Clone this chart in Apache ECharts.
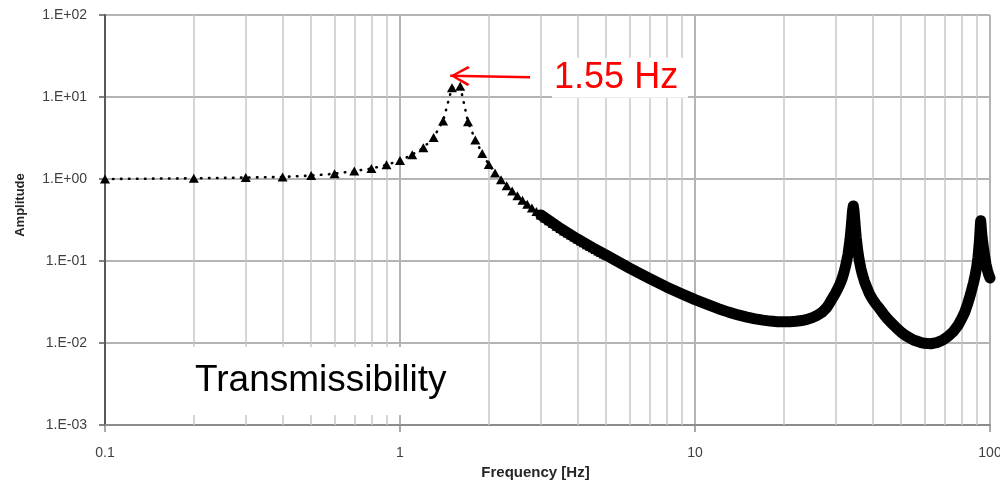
<!DOCTYPE html>
<html>
<head>
<meta charset="utf-8">
<script src="https://cdn.jsdelivr.net/npm/echarts@6/dist/echarts.min.js"></script>
<style>
html,body{margin:0;padding:0;background:#ffffff;}
#chart{width:1000px;height:483px;}
</style>
</head>
<body>
<div id="chart"></div>
<script>
// ---- data ----
const freqLow = [0.1,0.2,0.3,0.4,0.5,0.6,0.7,0.8,0.9,1.0,
                 1.1,1.2,1.3,1.4,1.5,1.6,1.7,1.8,1.9,2.0,
                 2.1,2.2,2.3,2.4,2.5,2.6,2.7,2.8,2.9,3.0,
                 3.1,3.2,3.3,3.4,3.5,3.6,3.7,3.8,3.9,4.0,
                 4.1,4.2,4.3,4.4,4.5,4.6,4.7,4.8,4.9,5.0];
const ampLow  = [1.00,1.02,1.04,1.06,1.10,1.16,1.25,1.34,1.49,1.68,
                 1.98,2.40,3.20,5.10,13.0,13.5,5.00,3.00,2.05,1.50,
                 1.18,0.98,0.83,0.715,0.625,0.552,0.492,0.443,0.401,0.365,
                 0.334,0.309,0.286,0.265,0.249,0.233,0.219,0.207,0.196,0.185,
                 0.175,0.167,0.158,0.151,0.145,0.138,0.132,0.127,0.122,0.118];
const freqHigh = [3.0,3.5,4,4.5,5,6,7,8,9,10,11,12,13,14,15,16,17,18,19,20,
                  21,22,23,24,25,26,27,28,28.5,29,29.5,30,30.5,31,31.5,32,32.5,33,33.5,
                  33.8,34,34.2,34.4,34.6,34.8,35,35.2,35.6,36,36.5,37,37.5,38,39,40,
                  41,42,43,44,45,46,47,48,50,52,55,58,60,63,66,69,72,75,78,80,82,
                  84,86,88,89,90,90.5,91,91.5,92,92.5,92.8,93,93.3,93.6,94,95,96,97,
                  98,99,100];
const ampHigh  = [0.365,0.249,0.185,0.145,0.118,0.082,0.0614,0.0483,0.0398,0.0338,
                  0.0295,0.0262,0.0238,0.0220,0.0207,0.0197,0.0190,0.0185,0.0182,0.0181,
                  0.0182,0.0184,0.0188,0.0194,0.0204,0.0218,0.0238,0.0272,0.0300,0.0335,
                  0.0370,0.0412,0.0462,0.0525,0.0605,0.0730,0.0915,0.120,0.178,
                  0.245,0.316,0.410,0.470,0.410,0.316,0.243,0.193,0.136,0.104,0.081,
                  0.067,0.057,0.050,0.040,0.034,
                  0.030,0.027,0.024,0.0215,0.0196,0.0180,0.0167,0.0155,0.0135,0.0122,
                  0.0109,0.0102,0.0099,0.0098,0.0101,0.0108,0.0120,0.0137,0.0165,0.0195,
                  0.0235,0.0300,0.0400,0.0550,0.0660,0.0820,0.0940,0.110,0.135,0.170,
                  0.230,0.285,0.310,0.270,0.232,0.195,0.145,0.112,0.090,
                  0.077,0.068,0.062];
const minorGrid = [0.2,0.3,0.4,0.5,0.6,0.7,0.8,0.9,
                   2,3,4,5,6,7,8,9,
                   20,30,40,50,60,70,80,90];
const peakLabel = '1.55 Hz';
const arrowFrom = [2.76, 17.4];
const arrowTo = [1.48, 18.2];
const chartLabel = 'Transmissibility';
const xName = 'Frequency [Hz]';
const yName = 'Amplitude';

// ---- chart ----
const lowData = freqLow.map((f, i) => [f, ampLow[i]]);
const highData = freqHigh.map((f, i) => [f, ampHigh[i]]);

const FONT = '"Liberation Sans", Arial, sans-serif';
const chart = echarts.init(document.getElementById('chart'), null, {renderer: 'canvas'});

function yFmt(v) {
  const e = Math.round(Math.log10(v));
  return '1.E' + (e < 0 ? '-' : '+') + String(Math.abs(e)).padStart(2, '0');
}
function xFmt(v) {
  return String(Number(v.toPrecision(3)));
}

// chevron pointing up, with tip at the centre of its bounding box
const chevron = 'path://M10,-19.5L10.01,-19.5M10,0L20,17.5L18,19.5L10,4.5L2,19.5L0,17.5Z';

chart.setOption({
  animation: false,
  backgroundColor: '#ffffff',
  title: {
    text: chartLabel,
    left: 186,
    top: 347,
    padding: [15, 40, 15, 9],
    backgroundColor: '#ffffff',
    textStyle: {fontFamily: FONT, fontSize: 37, fontWeight: 'normal', color: '#000000', lineHeight: 38}
  },
  grid: {left: 105, right: 10, top: 15, bottom: 58, containLabel: false, outerBoundsMode: 'none'},
  xAxis: {
    type: 'log',
    logBase: 10,
    min: 0.1,
    max: 100,
    name: xName,
    nameLocation: 'middle',
    nameGap: 38,
    nameTextStyle: {fontFamily: FONT, fontSize: 15, fontWeight: 'bold', color: '#262626', padding: [0, 24, 0, 0]},
    axisLine: {show: true, lineStyle: {color: '#8c8c8c', width: 2}},
    axisTick: {show: true, length: 7, lineStyle: {color: '#8c8c8c', width: 1.5}},
    axisLabel: {fontFamily: FONT, fontSize: 14, color: '#404040', margin: 21, formatter: xFmt},
    splitLine: {show: true, lineStyle: {color: '#b4b4b4', width: 2}}
  },
  yAxis: {
    type: 'log',
    logBase: 10,
    min: 0.001,
    max: 100,
    name: yName,
    nameLocation: 'middle',
    nameRotate: 90,
    nameGap: 78,
    nameTextStyle: {fontFamily: FONT, fontSize: 13, fontWeight: 'bold', color: '#262626', padding: [0, 0, 0, 30]},
    axisLine: {show: true, lineStyle: {color: '#595959', width: 2}},
    axisTick: {show: true, length: 6, lineStyle: {color: '#595959', width: 1.5}},
    axisLabel: {fontFamily: FONT, fontSize: 14, color: '#404040', margin: 18, formatter: yFmt},
    splitLine: {show: true, lineStyle: {color: '#b4b4b4', width: 2}}
  },
  series: [
    {
      name: 'band',
      type: 'line',
      data: highData,
      z: 3,
      symbol: 'none',
      showSymbol: false,
      silent: true,
      lineStyle: {color: '#000000', width: 11, join: 'round', cap: 'round'},
      markLine: {
        silent: true,
        z: 1,
        symbol: ['none', 'none'],
        label: {show: false},
        lineStyle: {color: '#c8c8c8', width: 1.5, type: 'solid'},
        data: minorGrid.map(v => ({xAxis: v}))
      }
    },
    {
      name: 'points',
      type: 'line',
      data: lowData,
      z: 4,
      symbol: 'triangle',
      symbolSize: [10, 9],
      showAllSymbol: true,
      silent: true,
      itemStyle: {color: '#000000'},
      lineStyle: {color: '#000000', width: 2.6, type: [0.5, 7.5], cap: 'round'},
      markLine: {
        silent: true,
        z: 10,
        symbol: ['none', chevron],
        symbolSize: [20, 39],
        lineStyle: {color: '#ff0000', width: 2.5, type: 'solid'},
        label: {
          show: true,
          position: 'start',
          distance: 22,
          formatter: peakLabel,
          fontFamily: FONT,
          fontSize: 36,
          color: '#ff0000',
          backgroundColor: '#ffffff',
          padding: [2, 10, 2, 2]
        },
        data: [[{coord: arrowFrom}, {coord: arrowTo}]]
      }
    }
  ]
});
</script>
</body>
</html>
